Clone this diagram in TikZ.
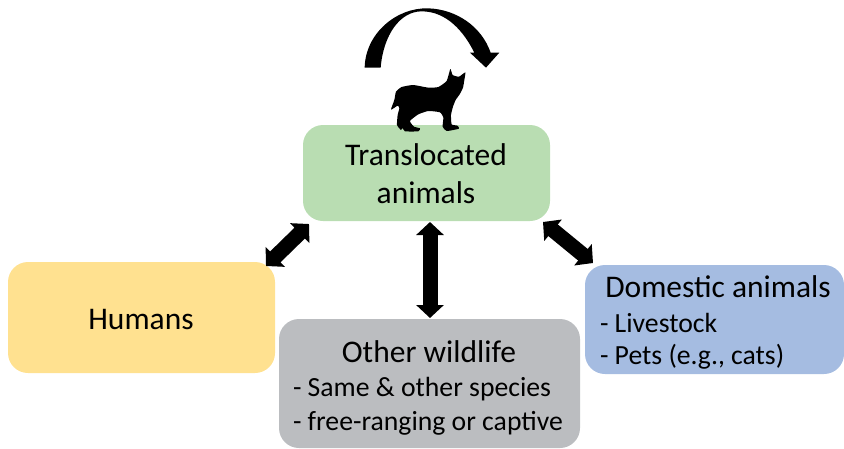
\documentclass[tikz,border=0pt]{standalone}
\usepackage{fontspec}
\setmainfont{Carlito}
\usetikzlibrary{arrows.meta}
\definecolor{cgreen}{HTML}{B9DDB2}
\definecolor{cyellow}{HTML}{FFE190}
\definecolor{cgray}{HTML}{BBBDC0}
\definecolor{cblue}{HTML}{A5BCE1}
\tikzset{
  box/.style={rounded corners=20pt,inner sep=0pt,outer sep=0pt,anchor=north west},
  bigarrow/.style={line width=15pt,{Triangle[width=27pt,length=13pt]}-{Triangle[width=27pt,length=13pt]},shorten <=0pt,shorten >=0pt},
  lab/.style={inner sep=0pt,outer sep=0pt,text=black,font=\fontsize{31.5}{36}\selectfont},
  sub/.style={inner sep=0pt,outer sep=0pt,text=black,font=\fontsize{27.7}{32}\selectfont},
}
\begin{document}
\begin{tikzpicture}[x=1pt,y=-1pt]
\useasboundingbox (0,0) rectangle (844,448);
\node[box,fill=cgreen,minimum width=247pt,minimum height=96pt] (trans) at (303,125) {};
\node[box,fill=cyellow,minimum width=267pt,minimum height=111pt] (hum) at (8,262) {};
\node[box,fill=cgray,minimum width=301pt,minimum height=129pt] (other) at (279,319) {};
\node[box,fill=cblue,minimum width=259pt,minimum height=109pt] (dom) at (585,265) {};
\node[lab,anchor=base] (t1) at (426,165) {Translocated};
\node[lab,anchor=base] (t2) at (426,203) {animals};
\node[lab,anchor=base] (t3) at (141,329) {Humans};
\node[lab,anchor=base] (t4) at (429,362) {Other wildlife};
\node[sub,anchor=base west] (t5) at (293,396) {- Same \& other species};
\node[sub,anchor=base west] (t6) at (293,430) {- free-ranging or captive};
\node[lab,anchor=base] (t7) at (718,297) {Domestic animals};
\node[sub,anchor=base west] (t8) at (600,332) {- Livestock};
\node[sub,anchor=base west] (t9) at (600,364) {- Pets (e.g., cats)};
\draw[bigarrow] ([xshift=3.5pt,yshift=-1pt]trans.south) -- ([xshift=0.5pt,yshift=1pt]other.north);
\draw[bigarrow] ([xshift=6pt,yshift=-3pt]trans.south west) -- ([xshift=-9pt,yshift=-4pt]hum.north east |- hum.north) ;
\draw[bigarrow] ([xshift=-7pt,yshift=-1pt]trans.south east) -- ([xshift=8pt,yshift=2pt]dom.north west);
\begin{scope}[shift={(340,0)},x=0.3333pt,y=-0.3333pt]
\fill[black] (74,203) .. controls (76,100) and (170,22) .. (265,25) .. controls (350,28) and (425,80) .. (452,158) -- (478,158) -- (438,203) -- (390,158) -- (403,158) .. controls (372,95) and (320,34) .. (245,34) .. controls (180,34) and (130,105) .. (122,203) -- cycle;
\end{scope}
\begin{scope}[shift={(385,65)},x=0.3333pt,y=-0.3333pt]
\fill[black] plot[smooth cycle,tension=0.3] coordinates {(196,12) (203,30) (222,35) (241,22) (238,45) (234,68) (224,88) (212,105) (204,125) (198,150) (200,178) (217,182) (222,191) (185,198) (173,185) (175,158) (165,142) (130,138) (100,148) (75,168) (87,185) (105,190) (100,199) (60,199) (53,189) (48,195) (36,180) (38,150) (43,130) (38,122) (18,134) (28,105) (33,80) (50,66) (85,60) (130,68) (160,66) (185,48)};
\end{scope}
\end{tikzpicture}
\end{document}
